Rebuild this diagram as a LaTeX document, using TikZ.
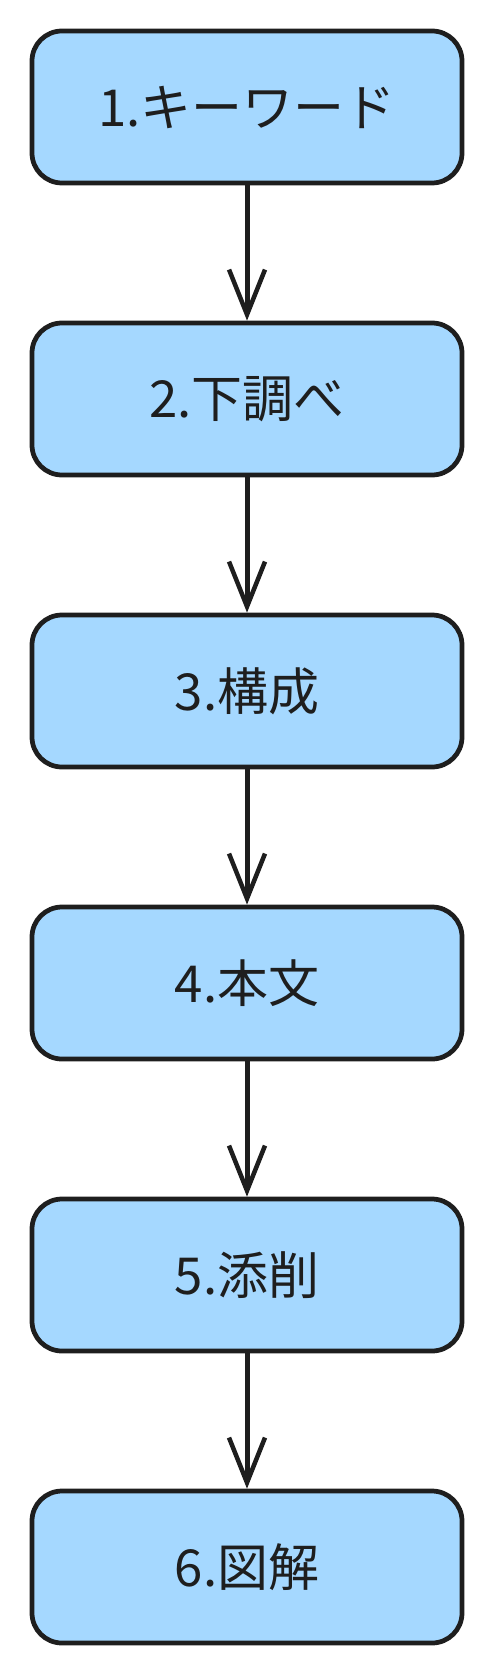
\documentclass[tikz,border=0pt]{standalone}
\usepackage{fontspec}
\setmainfont{Noto Sans CJK JP}
\usetikzlibrary{arrows.meta}
\definecolor{boxblue}{HTML}{A5D8FF}
\definecolor{inkgray}{HTML}{1E1E1E}

\begin{document}
\begin{tikzpicture}[
		stepbox/.style={draw=inkgray, fill=boxblue, line width=0.95mm, rounded corners=0.6cm, minimum width=8.6cm, minimum height=3.04cm, inner sep=0pt, text=inkgray, font=\fontsize{29}{34}\selectfont},
		flow/.style={draw=inkgray, line width=1mm, -{Straight Barb[length=0.9cm, width=0.72cm, line width=0.9mm]}}
	]
		%%%%% START %%%%%
		
		\useasboundingbox (0, 0) rectangle (9.84, -33.52);
		
		\node[stepbox] (keyword) at (4.94, -2.14) {1.キーワード};
		\node[stepbox] (research) at (4.94, -7.98) {2.下調べ};
		\node[stepbox] (outline) at (4.94, -13.82) {3.構成};
		
		\node[stepbox] (body) at (4.94, -19.66) {4.本文};
		\node[stepbox] (review) at (4.94, -25.50) {5.添削};
		\node[stepbox] (figure) at (4.94, -31.34) {6.図解};
		
		\draw[flow] (keyword) -- (research);
		\draw[flow] (research) -- (outline);
		\draw[flow] (outline) -- (body);
		\draw[flow] (body) -- (review);
		\draw[flow] (review) -- (figure);
		
		%%%%% END %%%%%
	\end{tikzpicture}
\end{document}
